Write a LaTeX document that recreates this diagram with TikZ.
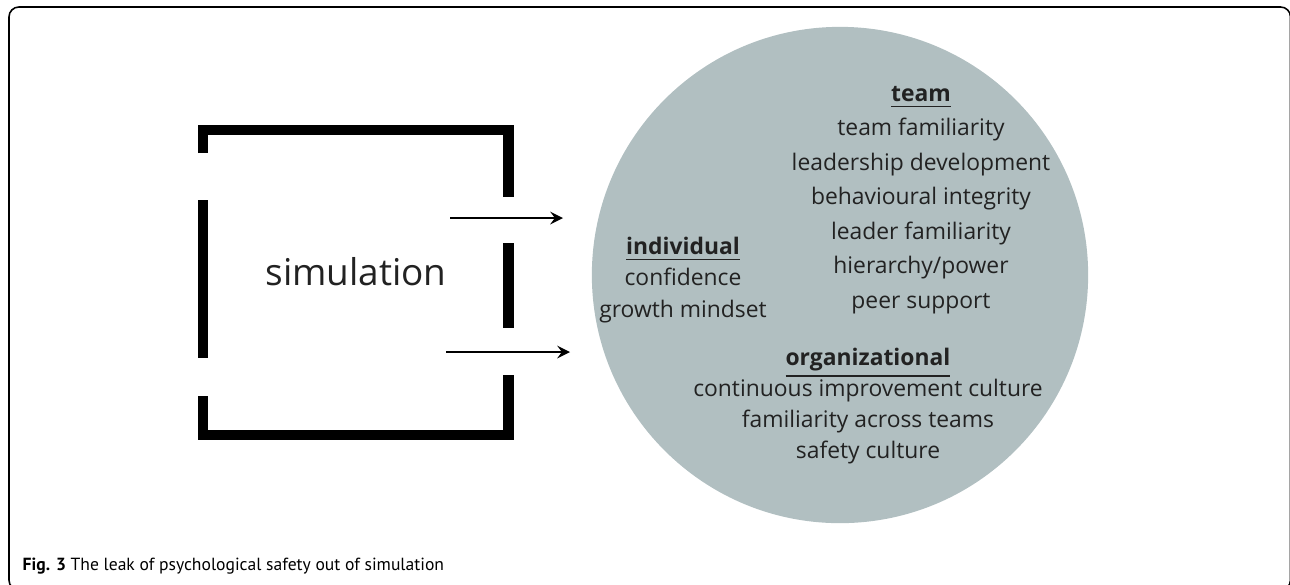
\documentclass[tikz,border=0pt]{standalone}
\usepackage{fontspec}
\setmainfont{Open Sans}
\newfontfamily\capfont{PT Sans}
\usepackage{xcolor}
\definecolor{leakgray}{HTML}{B1BFC1}
\definecolor{inkgray}{HTML}{222222}

\begin{document}
\begin{tikzpicture}[
    x=0.01cm, y=-0.01cm,
    wall/.style={line width=2.85pt, black},
    itembox/.style={align=center, inner sep=0pt, text=inkgray, font=\fontsize{6.5}{9.8}\selectfont},
    simbox/.style={inner sep=0pt, text=inkgray, font=\fontsize{10.5}{12}\selectfont},
    arrow/.style={->, line width=0.6pt, >=stealth}
]
\useasboundingbox (0,0) rectangle (1290,584);
% Outer figure frame, cut off at right and bottom
\begin{scope}
  \clip (0,0) rectangle (1290,584);
  \draw[line width=0.45pt, rounded corners=2.8pt] (9,7) rectangle (1290.5,590);
\end{scope}

% Leaky simulation box
\draw[wall] (203,153) -- (203,129.5) -- (508.5,129.5) -- (508.5,197);
\draw[wall] (203,200) -- (203,358);
\draw[wall] (508.5,243) -- (508.5,328);
\draw[wall] (203,396) -- (203,435) -- (508.5,435) -- (508.5,375);
\node[simbox] (sim) at (356,272) {simulation};

% Circle of factors
\node[circle, fill=leakgray, minimum size=4.96cm, inner sep=0pt] (leak) at (840,275) {};
\node[itembox] (team) at (921,200) {\underline{\textbf{team}}\\
  team familiarity\\leadership development\\behavioural integrity\\
  leader familiarity\\hierarchy/power\\peer support};
\node[itembox, font=\fontsize{6.5}{8.9}\selectfont] (indiv) at (683,280) {\underline{\textbf{individual}}\\
  confidence\\growth mindset};
\node[itembox, font=\fontsize{6.5}{8.8}\selectfont] (org) at (868,406) {\underline{\textbf{organizational}}\\
  continuous improvement culture\\familiarity across teams\\safety culture};

% Leaks out of the box
\coordinate (upout) at (450,218);
\coordinate (upin) at (563,218);
\coordinate (lowout) at (446,352);
\coordinate (lowin) at (570,352);
\draw[arrow] (upout) -- (upin);
\draw[arrow] (lowout) -- (lowin);

% Caption
\node[anchor=west, inner sep=0pt, font=\capfont\fontsize{5}{6}\selectfont] (cap) at (22,566)
  {\textbf{Fig. 3} The leak of psychological safety out of simulation};
\end{tikzpicture}
\end{document}
